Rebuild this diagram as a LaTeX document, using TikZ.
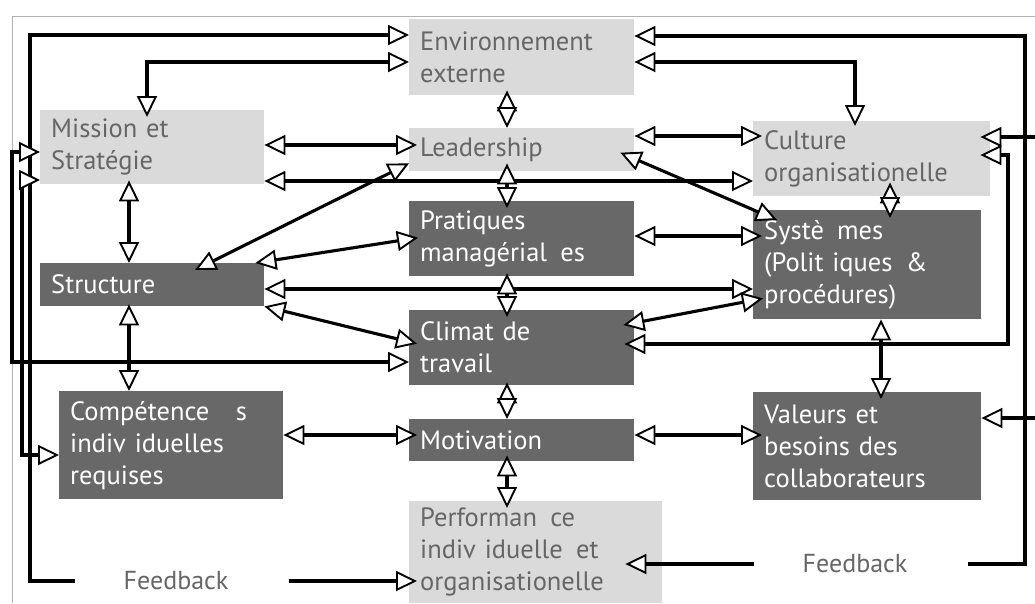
\documentclass[tikz,border=0pt]{standalone}
\usepackage{fontspec}
\setmainfont{PT Sans}
\usetikzlibrary{arrows.meta}
\definecolor{lightbox}{HTML}{DADADA}
\definecolor{darkbox}{HTML}{686868}
\definecolor{lighttext}{HTML}{666666}
\newcommand\wgap{\hspace{0.5em}}
\begin{document}
\begin{tikzpicture}[x=1pt,y=-1pt,
  box/.style={rectangle, anchor=north west, inner xsep=11pt, inner ysep=0pt, align=left,
    font=\fontsize{26.5}{32}\selectfont},
  lbox/.style={box, fill=lightbox, text=lighttext},
  dbox/.style={box, fill=darkbox, text=white},
  sz/.style n args={3}{minimum width=#1pt, minimum height=#2pt, text width=#3pt},
  fb/.style={inner xsep=48pt, inner ysep=0pt, text=lighttext, font=\fontsize{26}{30}\selectfont},
  conn/.style={line width=3.1pt, line join=miter,
    >={Triangle[length=21pt,width=20pt,fill=white,line width=1.9pt]}},
  frame/.style={draw=black!30, line width=0.6pt}
]
\useasboundingbox (0,0) rectangle (1035,603);
\draw[frame] (12,603) -- (12,16) -- (1035,16);

% boxes
\node[lbox, sz={225}{76}{203}] (env) at (409,19) {Environnement\\externe};
\node[lbox, sz={224}{74}{202}] (mission) at (40,110) {Mission et\\Stratégie};
\node[lbox, sz={225}{43}{203}] (leader) at (409,128) {Leadership};
\node[lbox, sz={237}{75}{215}] (culture) at (753,121) {Culture\\organisationelle};
\node[dbox, sz={225}{75}{203}] (prat) at (409,201) {Pratiques\\managérial\wgap es};
\node[dbox, sz={228}{109}{206}] (sys) at (753,210) {Systè\wgap mes\\(Polit iques\wgap \&\\procédures)};
\node[dbox, sz={224}{43}{202}] (struct) at (40,263) {Structure};
\node[dbox, sz={225}{75}{203}] (climat) at (409,310) {Climat de\\travail};
\node[dbox, sz={224}{108}{202}] (comp) at (59,391) {Compétence\wgap\wgap s\\indiv iduelles\\requises};
\node[dbox, sz={225}{42}{203}] (motiv) at (409,419) {Motivation};
\node[dbox, sz={228}{108}{206}] (val) at (753,392) {Valeurs et\\besoins des\\collaborateurs};
\node[lbox, sz={253}{102}{231}] (perf) at (409,501) {Performan\wgap ce\\indiv iduelle\wgap et\\organisationelle};

\node[fb] (fbL) at (176,581) {Feedback};
\node[fb] (fbR) at (855,564) {Feedback};

% outer feedback loops
\draw[conn,->] (fbL.west) -| (30,35) -- (env.west |- 0,35);
\draw[conn,<->] (mission.west |- 0,152) -| (12,362) -- (climat.west |- 0,362);
\draw[conn,<->] (mission.west |- 0,180) -| (22,455) -- (comp.west |- 0,455);
\draw[conn,->] ([xshift=12pt]fbR.east) -| (1025,36) -- (env.east |- 0,36);
\draw[conn,->,shorten >=-10pt] (1035,137) -- (culture.east |- 0,137);
\draw[conn,->] (1035,418) -- (val.east |- 0,418);
\draw[conn,<->,shorten <=-10pt,shorten >=-10pt] (culture.east |- 0,155) -| (1008,344) -- (climat.east |- 0,344);
\draw[conn,->,shorten >=-8pt] ([xshift=12pt]fbL.east) -- (perf.west |- fbL.east);
\draw[conn,->,shorten >=-9pt] (fbR.west) -- (climat.east |- fbR.west);

% top links
\draw[conn,<->,shorten >=-5pt] (env.east |- 0,62) -| (culture.north -| 855,0);
\draw[conn,<->,shorten >=-7pt] (env.west |- 0,62) -| (mission.north -| 147,0);
\draw[conn,<->,shorten <=-5pt] (env.south -| 507,0) -- (leader.north -| 507,0);

% horizontal links
\draw[conn,<->,shorten >=-8pt] (mission.east |- 0,145) -- (leader.west |- 0,145);
\draw[conn,<->] (mission.east |- 0,181) -- (culture.west |- 0,181);
\draw[conn,<->,shorten >=-9pt] (leader.east |- 0,136) -- (culture.west |- 0,136);
\draw[conn,<->] (struct.east |- 0,289) -- (sys.west |- 0,289);
\draw[conn,<->,shorten >=-9pt] (prat.east |- 0,236) -- (sys.west |- 0,236);
\draw[conn,<->,shorten >=-8pt] (comp.east |- 0,435) -- (motiv.west |- 0,435);
\draw[conn,<->,shorten >=-9pt] (motiv.east |- 0,435) -- (val.west |- 0,435);

% diagonal links
\draw[conn,<->] ([xshift=155pt,yshift=-7pt]struct.north west) -- ([yshift=8pt]leader.south west);
\draw[conn,<->] ([xshift=-14pt,yshift=-3pt]leader.east) -- ([xshift=24pt,yshift=-10pt]sys.north west);
\draw[conn,<->] ([xshift=-9pt]struct.north east) -- ([xshift=9pt,yshift=1pt]prat.west);
\draw[conn,<->] (struct.south east) -- ([xshift=8pt,yshift=4pt]climat.west);
\draw[conn,<->] ([xshift=-11pt,yshift=-15pt]climat.north east) -- ([xshift=10pt,yshift=21pt]sys.south west);

% vertical links
\draw[conn,<->,shorten <=-8pt,shorten >=-7pt] (leader.south -| 507,0) -- (prat.north -| 507,0);
\draw[conn,<->,shorten <=-3pt,shorten >=-7pt] (prat.south -| 507,0) -- (climat.north -| 507,0);
\draw[conn,<->,shorten <=-3pt] (climat.south -| 507,0) -- (motiv.north -| 507,0);
\draw[conn,<->,shorten <=-6pt,shorten >=-7pt] (motiv.south -| 507,0) -- (perf.north -| 507,0);
\draw[conn,<->,shorten <=-4pt] (mission.south -| 129,0) -- (struct.north -| 129,0);
\draw[conn,<->,shorten <=-2pt] (struct.south -| 129,0) -- (comp.north -| 129,0);
\draw[conn,<->,shorten <=-14pt,shorten >=-8pt] (culture.south -| 890,0) -- (sys.north -| 890,0);
\draw[conn,<->,shorten >=-7pt] (sys.south -| 881,0) -- (val.north -| 881,0);
\end{tikzpicture}
\end{document}
